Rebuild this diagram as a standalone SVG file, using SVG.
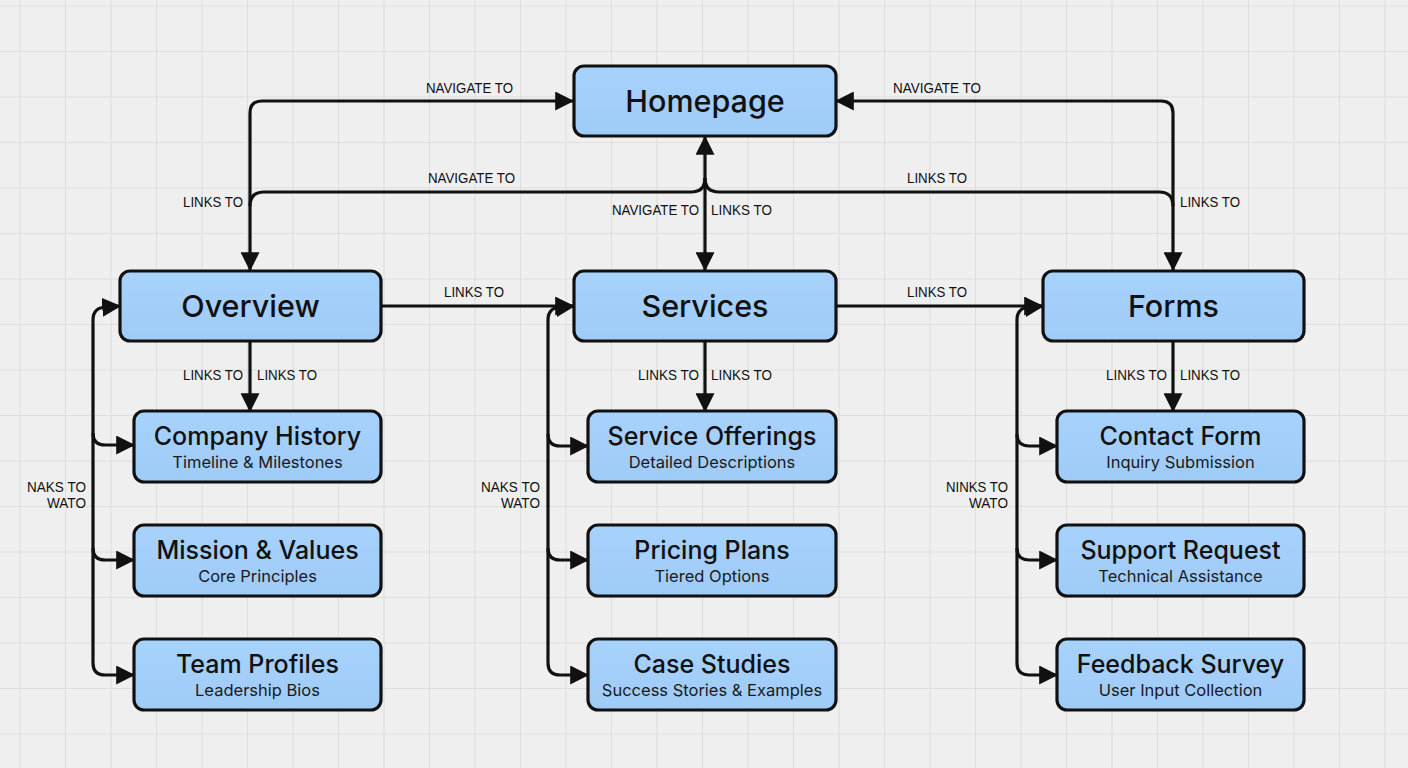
<svg xmlns="http://www.w3.org/2000/svg" width="1408" height="768" viewBox="0 0 1408 768">
<defs>
<pattern id="grid" x="19.5" y="5.5" width="45.5" height="45.5" patternUnits="userSpaceOnUse">
<path d="M0 0 H45.5 M0 0 V45.5" fill="none" stroke="#d9d9d9" stroke-width="1.6"/>
</pattern>
<marker id="ah" markerUnits="userSpaceOnUse" markerWidth="19" markerHeight="19" viewBox="0 0 16 16" refX="15" refY="8" orient="auto-start-reverse">
<path d="M0 0 L16 8 L0 16 Z" fill="#111"/>
</marker>
<linearGradient id="fill" x1="0" y1="0" x2="0" y2="1">
<stop offset="0" stop-color="#a7d2fc"/>
<stop offset="1" stop-color="#9fcbf7"/>
</linearGradient>
</defs>
<style>
.box{fill:url(#fill);stroke:#111;stroke-width:3.2}
.big{font-family:Inter,"Liberation Sans",sans-serif;font-size:30.5px;font-weight:500;fill:#111;text-anchor:middle}
.t{font-family:Inter,"Liberation Sans",sans-serif;font-size:25px;font-weight:500;fill:#111;text-anchor:middle}
.s{font-family:Inter,"Liberation Sans",sans-serif;font-size:16.5px;font-weight:400;fill:#1a1a1a;text-anchor:middle}
.lbl{font-family:"Liberation Sans",Arial,sans-serif;font-size:15.5px;fill:#111}
.c{fill:none;stroke:#111;stroke-width:3.2;stroke-linejoin:round}
</style>
<rect width="1408" height="768" fill="#efefef"/>
<rect width="1408" height="768" fill="url(#grid)"/>

<g id="connectors">
<path class="c" d="M250 270 L250 113 Q250 101 262 101 L573 101" marker-start="url(#ah)" marker-end="url(#ah)"/>
<path class="c" d="M1173 270 L1173 113 Q1173 101 1161 101 L836 101" marker-start="url(#ah)" marker-end="url(#ah)"/>
<path class="c" d="M705 137 L705 270" marker-start="url(#ah)" marker-end="url(#ah)"/>
<path class="c" d="M250 206 Q250 192 264 192 L691 192 Q705 192 705 178"/>
<path class="c" d="M705 178 Q705 192 719 192 L1159 192 Q1173 192 1173 206"/>
<path class="c" d="M381 306 L573 306" marker-end="url(#ah)"/>
<path class="c" d="M836 306 L1042 306" marker-end="url(#ah)"/>
<path class="c" d="M250 341 L250 411" marker-end="url(#ah)"/>
<path class="c" d="M705 341 L705 411" marker-end="url(#ah)"/>
<path class="c" d="M1173 341 L1173 411" marker-end="url(#ah)"/>
<path class="c" d="M134 675 L105 675 Q93 675 93 663 L93 320 Q93 307 107 307 L120 306" marker-start="url(#ah)" marker-end="url(#ah)"/>
<path class="c" d="M93 433 Q93 445 105 445 L134 445" marker-end="url(#ah)"/>
<path class="c" d="M93 548 Q93 560 105 560 L134 560" marker-end="url(#ah)"/>
<path class="c" d="M588 675 L560 675 Q548 675 548 663 L548 320 Q548 307 562 307 L574 306" marker-start="url(#ah)" marker-end="url(#ah)"/>
<path class="c" d="M548 434 Q548 446 560 446 L588 446" marker-end="url(#ah)"/>
<path class="c" d="M548 548 Q548 560 560 560 L588 560" marker-end="url(#ah)"/>
<path class="c" d="M1057 675 L1029 675 Q1017 675 1017 663 L1017 320 Q1017 307 1031 307 L1043 306" marker-start="url(#ah)" marker-end="url(#ah)"/>
<path class="c" d="M1017 434 Q1017 446 1029 446 L1057 446" marker-end="url(#ah)"/>
<path class="c" d="M1017 548 Q1017 560 1029 560 L1057 560" marker-end="url(#ah)"/>

<g class="lbl">
<text x="426" y="93" textLength="87" lengthAdjust="spacingAndGlyphs">NAVIGATE TO</text>
<text x="428" y="183" textLength="87" lengthAdjust="spacingAndGlyphs">NAVIGATE TO</text>
<text x="183" y="207" textLength="60" lengthAdjust="spacingAndGlyphs">LINKS TO</text>
<text x="612" y="215" textLength="87" lengthAdjust="spacingAndGlyphs">NAVIGATE TO</text>
<text x="711" y="215" textLength="61" lengthAdjust="spacingAndGlyphs">LINKS TO</text>
<text x="893" y="93" textLength="88" lengthAdjust="spacingAndGlyphs">NAVIGATE TO</text>
<text x="907" y="183" textLength="60" lengthAdjust="spacingAndGlyphs">LINKS TO</text>
<text x="1180" y="207" textLength="60" lengthAdjust="spacingAndGlyphs">LINKS TO</text>
<text x="444" y="297" textLength="60" lengthAdjust="spacingAndGlyphs">LINKS TO</text>
<text x="907" y="297" textLength="60" lengthAdjust="spacingAndGlyphs">LINKS TO</text>
<text x="183" y="380" textLength="60" lengthAdjust="spacingAndGlyphs">LINKS TO</text>
<text x="257" y="380" textLength="60" lengthAdjust="spacingAndGlyphs">LINKS TO</text>
<text x="638" y="380" textLength="61" lengthAdjust="spacingAndGlyphs">LINKS TO</text>
<text x="711" y="380" textLength="61" lengthAdjust="spacingAndGlyphs">LINKS TO</text>
<text x="1106" y="380" textLength="61" lengthAdjust="spacingAndGlyphs">LINKS TO</text>
<text x="1180" y="380" textLength="60" lengthAdjust="spacingAndGlyphs">LINKS TO</text>
<text x="27" y="492" textLength="59" lengthAdjust="spacingAndGlyphs">NAKS TO</text>
<text x="47" y="508" textLength="39" lengthAdjust="spacingAndGlyphs">WATO</text>
<text x="481" y="492" textLength="59" lengthAdjust="spacingAndGlyphs">NAKS TO</text>
<text x="501" y="508" textLength="39" lengthAdjust="spacingAndGlyphs">WATO</text>
<text x="946" y="492" textLength="62" lengthAdjust="spacingAndGlyphs">NINKS TO</text>
<text x="969" y="508" textLength="39" lengthAdjust="spacingAndGlyphs">WATO</text>
</g>
</g>

<g id="homepage"><rect class="box" x="574" y="66" width="262" height="70" rx="10"/><text class="big" x="705" y="112">Homepage</text></g>
<g id="overview"><rect class="box" x="120" y="271" width="261" height="70" rx="10"/><text class="big" x="250.5" y="317">Overview</text></g>
<g id="services"><rect class="box" x="574" y="271" width="262" height="70" rx="10"/><text class="big" x="705" y="317">Services</text></g>
<g id="forms"><rect class="box" x="1043" y="271" width="261" height="70" rx="10"/><text class="big" x="1173.5" y="317">Forms</text></g>

<g id="company-history"><rect class="box" x="134" y="411" width="247" height="71" rx="10"/><text class="t" x="257.5" y="445">Company History</text><text class="s" x="257.5" y="468">Timeline &amp; Milestones</text></g>
<g id="mission-values"><rect class="box" x="134" y="525" width="247" height="71" rx="10"/><text class="t" x="257.5" y="559">Mission &amp; Values</text><text class="s" x="257.5" y="582">Core Principles</text></g>
<g id="team-profiles"><rect class="box" x="134" y="639" width="247" height="71" rx="10"/><text class="t" x="257.5" y="673">Team Profiles</text><text class="s" x="257.5" y="696">Leadership Bios</text></g>

<g id="service-offerings"><rect class="box" x="588" y="411" width="248" height="71" rx="10"/><text class="t" x="712" y="445">Service Offerings</text><text class="s" x="712" y="468">Detailed Descriptions</text></g>
<g id="pricing-plans"><rect class="box" x="588" y="525" width="248" height="71" rx="10"/><text class="t" x="712" y="559">Pricing Plans</text><text class="s" x="712" y="582">Tiered Options</text></g>
<g id="case-studies"><rect class="box" x="588" y="639" width="248" height="71" rx="10"/><text class="t" x="712" y="673">Case Studies</text><text class="s" x="712" y="696">Success Stories &amp; Examples</text></g>

<g id="contact-form"><rect class="box" x="1057" y="411" width="247" height="71" rx="10"/><text class="t" x="1180.5" y="445">Contact Form</text><text class="s" x="1180.5" y="468">Inquiry Submission</text></g>
<g id="support-request"><rect class="box" x="1057" y="525" width="247" height="71" rx="10"/><text class="t" x="1180.5" y="559">Support Request</text><text class="s" x="1180.5" y="582">Technical Assistance</text></g>
<g id="feedback-survey"><rect class="box" x="1057" y="639" width="247" height="71" rx="10"/><text class="t" x="1180.5" y="673">Feedback Survey</text><text class="s" x="1180.5" y="696">User Input Collection</text></g>
</svg>
